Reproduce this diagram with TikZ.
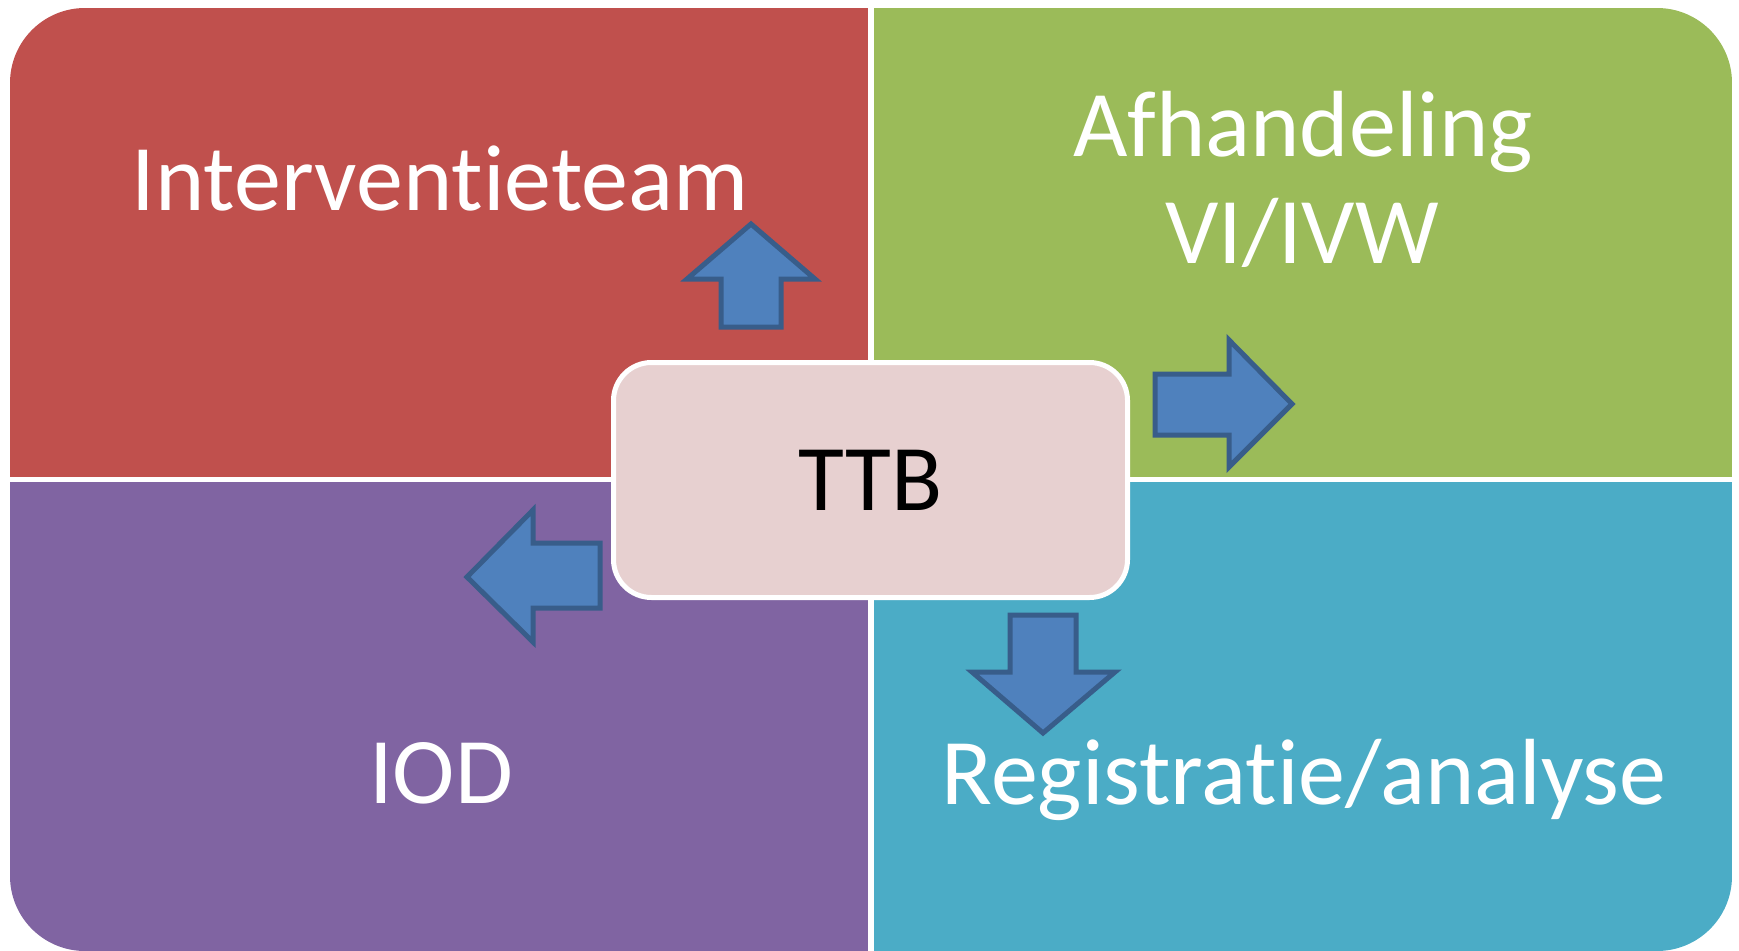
\documentclass[tikz,border=0pt]{standalone}
\usepackage{fontspec}
\setmainfont{Carlito}[Ligatures={NoCommon,NoRare,NoContextual}]
\definecolor{qred}{HTML}{C0504D}
\definecolor{qgreen}{HTML}{9BBB59}
\definecolor{qpurple}{HTML}{8064A2}
\definecolor{qteal}{HTML}{4BACC6}
\definecolor{cpink}{HTML}{E7D0D0}
\definecolor{arrfill}{HTML}{4F81BD}
\definecolor{arrline}{HTML}{385D8A}
\tikzset{
  quadlabel/.style={inner sep=0pt, anchor=base, text=white, font=\fontsize{94}{107}\selectfont},
  blockarrow/.style={fill=arrfill, draw=arrline, line width=5pt, line join=miter},
  centerbox/.style={draw=white, line width=5pt, fill=cpink, rounded corners=38pt,
    minimum width=514pt, minimum height=235pt, inner sep=0pt,
    font=\fontsize{94}{107}\selectfont, text=black}
}
\begin{document}
\begin{tikzpicture}[x=1pt,y=-1pt]
\useasboundingbox (0,0) rectangle (1739,950);
% quadrants
\begin{scope}
  \clip[rounded corners=75pt] (10,8) rectangle (1732,951);
  \fill[qred] (10,8) rectangle (868,477);
  \fill[qgreen] (874,8) rectangle (1732,477);
  \fill[qpurple] (10,482) rectangle (868,951);
  \fill[qteal] (874,482) rectangle (1732,951);
\end{scope}
% labels
\node[quadlabel] (interv) at (440,210) {Interventieteam};
\node[quadlabel] (afh1) at (1303,156) {Afhandeling};
\node[quadlabel] (afh2) at (1302,263) {VI/IVW};
\node[quadlabel] (iod) at (441,803) {IOD};
\node[quadlabel] (reg) at (1304,804) {Registratie/analyse};
% block arrows
\draw[blockarrow] (751,224) -- (815,279) -- (781,279) -- (781,327) -- (721,327) -- (721,279) -- (687,279) -- cycle;
\draw[blockarrow] (1292,404) -- (1229,467) -- (1229,435) -- (1155,435) -- (1155,374) -- (1229,374) -- (1229,340) -- cycle;
\draw[blockarrow] (467,577) -- (533,510) -- (533,543) -- (600,543) -- (600,608) -- (533,608) -- (533,642) -- cycle;
\draw[blockarrow] (1043,733) -- (972,672) -- (1010,672) -- (1010,615) -- (1076,615) -- (1076,672) -- (1115,672) -- cycle;
% centre
\node[centerbox] (ttb) at (870.5,480) {TTB};
\end{tikzpicture}
\end{document}
